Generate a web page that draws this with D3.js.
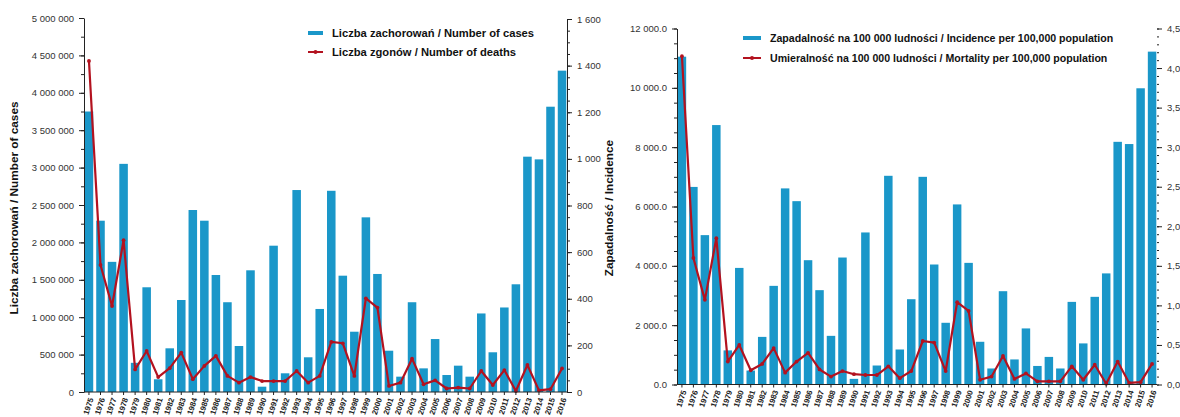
<!DOCTYPE html>
<html>
<head>
<meta charset="utf-8">
<script src="https://cdn.jsdelivr.net/npm/d3@7"></script>
<style>
  body { margin: 0; background: #fff; }
  svg { display: block; font-family: "Liberation Sans", Arial, sans-serif; }
</style>
</head>
<body>
<svg id="chart" width="1180" height="417"></svg>
<script>
// Years 1975–2016
const years = d3.range(1975, 2017);

// Number of cases and deaths
const cases = [3750000, 2290000, 1740000, 3050000, 390000, 1400000, 170000, 584000, 1230000, 2433000,
  2290000, 1564000, 1200000, 615000, 1627000, 71000, 1956000, 250000, 2700000, 464000,
  1110000, 2690000, 1555000, 806000, 2335000, 1578000, 552000, 205000, 1200000, 316000,
  708000, 227000, 352000, 205000, 1050000, 531000, 1130000, 1440000, 3146000, 3110000,
  3814000, 4296000];
const deaths = [1420, 545, 369, 651, 97, 176, 64, 102, 169, 55,
  112, 155, 69, 40, 64, 47, 47, 47, 90, 40,
  69, 215, 209, 69, 402, 362, 26, 40, 143, 33,
  50, 15, 19, 15, 90, 30, 94, 4, 116, 7,
  12, 101];

// Incidence and mortality per 100,000 population
const incidence = [11050, 6660, 5035, 8745, 1150, 3930, 470, 1605, 3325, 6610,
  6180, 4190, 3180, 1640, 4280, 190, 5125, 640, 7035, 1180,
  2875, 7000, 4045, 2080, 6070, 4100, 1440, 540, 3145, 845,
  1890, 625, 930, 540, 2785, 1385, 2955, 3745, 8180, 8105,
  9985, 11220];
const mortality = [4.15, 1.60, 1.07, 1.85, 0.29, 0.50, 0.18, 0.26, 0.46, 0.15,
  0.29, 0.40, 0.19, 0.10, 0.17, 0.13, 0.12, 0.12, 0.23, 0.08,
  0.17, 0.55, 0.53, 0.17, 1.04, 0.93, 0.06, 0.10, 0.36, 0.07,
  0.14, 0.04, 0.04, 0.04, 0.23, 0.06, 0.25, 0.01, 0.29, 0.02,
  0.03, 0.26];

// Axis ticks
const casesTicks = d3.range(0, 5000001, 500000);
const casesMinor = d3.range(0, 5000001, 250000);
const deathsTicks = d3.range(0, 1601, 200);
const deathsMinor = d3.range(0, 1601, 50);
const incidenceTicks = d3.range(0, 12001, 2000);
const incidenceMinor = d3.range(0, 12001, 500);
const mortalityTicks = d3.range(0, 4.51, 0.5);
const mortalityMinor = d3.range(0, 4.51, 0.1);

const barColor = "#1a97c9";
const lineColor = "#b3121f";

const svg = d3.select("#chart");

// Number formats: space as thousands separator, decimal comma on the rate axis
const fmtCount = v => d3.format(",")(v).replace(/,/g, " ");
const fmtIncidence = v => d3.format(",.1f")(v).replace(/,/g, " ");
const fmtMortality = v => d3.format(".1f")(v).replace(".", ",");

function drawPanel(p) {
  const g = svg.append("g");

  const x = d3.scaleBand().domain(years).range(p.xRange).paddingInner(0.26).paddingOuter(0.06);
  const yL = d3.scaleLinear().domain([0, p.leftMax]).range(p.yRange);
  const yR = d3.scaleLinear().domain([0, p.rightMax]).range(p.yRangeR);

  // Bars
  g.append("g").selectAll("rect").data(p.bars).join("rect")
    .attr("x", (d, i) => x(years[i]))
    .attr("y", d => yL(d))
    .attr("width", x.bandwidth())
    .attr("height", d => yL(0) - yL(d))
    .attr("fill", barColor);

  // Line with markers
  const line = d3.line()
    .x((d, i) => x(years[i]) + x.bandwidth() / 2)
    .y(d => yR(d));
  g.append("path").datum(p.line)
    .attr("d", line)
    .attr("fill", "none")
    .attr("stroke", lineColor)
    .attr("stroke-width", 2.2)
    .attr("stroke-linejoin", "round");
  g.append("g").selectAll("circle").data(p.line).join("circle")
    .attr("cx", (d, i) => x(years[i]) + x.bandwidth() / 2)
    .attr("cy", d => yR(d))
    .attr("r", 1.9)
    .attr("fill", lineColor);

  // Left axis
  const leftAxis = g.append("g").attr("transform", `translate(${p.xRange[0]},0)`);
  leftAxis.append("g")
    .call(d3.axisLeft(yL).tickValues(p.leftMinor).tickSize(3).tickFormat(""))
    .call(a => a.select(".domain").remove());
  leftAxis.append("g")
    .call(d3.axisLeft(yL).tickValues(p.leftTicks).tickSize(5).tickSizeOuter(0).tickPadding(5).tickFormat(p.leftFmt))
    .call(a => a.selectAll("text").attr("font-size", 9.5).attr("fill", "#333"));
  leftAxis.selectAll("line, path").attr("stroke", "#222");

  // Right axis
  const rightAxis = g.append("g").attr("transform", `translate(${p.xRange[1]},0)`);
  rightAxis.append("g")
    .call(d3.axisRight(yR).tickValues(p.rightMinor).tickSize(p.rightMinorSize).tickFormat(""))
    .call(a => a.select(".domain").remove());
  rightAxis.append("g")
    .call(d3.axisRight(yR).tickValues(p.rightTicks).tickSize(5).tickSizeOuter(0).tickPadding(5).tickFormat(p.rightFmt))
    .call(a => a.selectAll("text").attr("font-size", 9.5).attr("fill", "#333"))
    .call(a => { if (!p.rightDomain) a.select(".domain").remove(); });
  rightAxis.selectAll("line, path").attr("stroke", "#222");

  // Bottom axis with rotated year labels
  const bottom = g.append("g").attr("transform", `translate(0,${p.yRange[0]})`);
  bottom.call(d3.axisBottom(x).tickSize(3).tickSizeOuter(0).tickPadding(3))
    .call(a => a.select(".domain").attr("d", `M${p.xRange[0]},0H${p.xRange[1]}`))
    .call(a => a.selectAll("line, path").attr("stroke", "#222"))
    .call(a => a.selectAll("text")
      .attr("font-size", 7.8)
      .attr("font-weight", "bold")
      .attr("fill", "#222")
      .attr("text-anchor", "end")
      .attr("dy", "0.35em")
      .attr("transform", "translate(2,6) rotate(-72)")
      .attr("y", 0)
      .attr("x", 0));

  // Y axis title
  g.append("text")
    .attr("transform", `translate(${p.titleX},${p.titleY}) rotate(-90)`)
    .attr("text-anchor", "middle")
    .attr("font-size", 11.8)
    .attr("font-weight", "bold")
    .attr("fill", "#111")
    .text(p.title);

  // Legend
  const lg = g.append("g").attr("transform", `translate(${p.legendX},${p.legendY})`);
  lg.append("rect").attr("x", 0).attr("y", -2).attr("width", p.swatchW).attr("height", 4).attr("fill", barColor);
  lg.append("line").attr("x1", 0).attr("x2", p.swatchW).attr("y1", p.legendGap).attr("y2", p.legendGap)
    .attr("stroke", lineColor).attr("stroke-width", 2);
  lg.append("circle").attr("cx", p.swatchW / 2).attr("cy", p.legendGap).attr("r", 2).attr("fill", lineColor);
  lg.selectAll("text").data(p.legend).join("text")
    .attr("x", p.swatchW + 9)
    .attr("y", (d, i) => i * p.legendGap)
    .attr("dy", "0.35em")
    .attr("font-size", p.legendFont)
    .attr("font-weight", "bold")
    .attr("fill", "#111")
    .text(d => d);
}

drawPanel({
  bars: cases, line: deaths,
  xRange: [84, 567], yRange: [392, 18], yRangeR: [392, 19],
  leftMax: 5000000, rightMax: 1600,
  leftTicks: casesTicks, leftMinor: casesMinor, leftFmt: fmtCount,
  rightTicks: deathsTicks, rightMinor: deathsMinor, rightMinorSize: 3, rightDomain: true,
  rightFmt: fmtCount,
  title: "Liczba zachorowań  /  Number of cases", titleX: 18, titleY: 208,
  legend: ["Liczba zachorowań / Number of cases", "Liczba zgonów / Number of deaths"],
  legendX: 308, legendY: 33, legendGap: 19, swatchW: 15, legendFont: 11.2
});

drawPanel({
  bars: incidence, line: mortality,
  xRange: [677, 1157], yRange: [384.5, 28.5], yRangeR: [384.5, 28.5],
  leftMax: 12000, rightMax: 4.5,
  leftTicks: incidenceTicks, leftMinor: incidenceMinor, leftFmt: fmtIncidence,
  rightTicks: mortalityTicks, rightMinor: mortalityMinor, rightMinorSize: 2, rightDomain: false,
  rightFmt: fmtMortality,
  title: "Zapadalność  /  Incidence", titleX: 613, titleY: 208,
  legend: ["Zapadalność na 100 000 ludności / Incidence per 100,000 population",
           "Umieralność na 100 000 ludności / Mortality per 100,000 population"],
  legendX: 743, legendY: 38, legendGap: 20, swatchW: 18, legendFont: 10.6
});
</script>
</body>
</html>
